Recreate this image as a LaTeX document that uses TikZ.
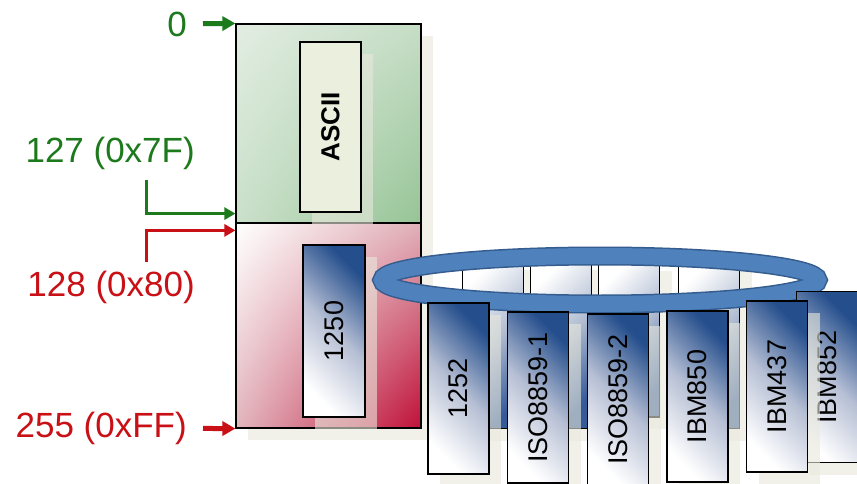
\documentclass[tikz,border=0pt]{standalone}
\usepackage{fontspec}
\setmainfont{Liberation Sans}
\usetikzlibrary{arrows.meta,shadows,shadings}

\definecolor{lblgreen}{RGB}{28,122,28}
\definecolor{lblred}{RGB}{200,16,22}
\definecolor{shadowc}{RGB}{232,232,220}
\definecolor{cardblue}{RGB}{36,78,140}
\definecolor{cardmid}{RGB}{182,191,212}
\definecolor{backmid}{RGB}{176,188,210}
\definecolor{backdark}{RGB}{52,90,152}
\definecolor{ringblue}{RGB}{79,129,189}
\definecolor{ringdark}{RGB}{52,92,142}
\definecolor{greenul}{RGB}{226,237,226}
\definecolor{greenur}{RGB}{198,221,198}
\definecolor{greenll}{RGB}{202,224,202}
\definecolor{greenlr}{RGB}{150,196,150}
\definecolor{redur}{RGB}{224,176,184}
\definecolor{redll}{RGB}{226,182,190}
\definecolor{redlr}{RGB}{192,16,56}
\definecolor{asciifill}{RGB}{235,240,222}

\begin{document}
\begin{tikzpicture}[
    x=1pt, y=1pt,
    sh/.style={drop shadow={shadow xshift=12pt,shadow yshift=-12pt,fill=shadowc,opacity=0.6}},
    half/.style={draw,line width=1.2pt,rectangle,minimum width=185pt,inner sep=0pt,sh},
    plain/.style={draw,line width=1.2pt,rectangle,minimum width=61pt,minimum height=171pt,inner sep=0pt,sh,
        font=\fontsize{27}{30}\selectfont},
    card/.style={plain,top color=cardblue,bottom color=white,middle color=cardmid,shading angle=-45},
    back/.style={plain,top color=white,bottom color=backdark,middle color=backmid,shading angle=45},
    lbl/.style={inner sep=0pt,font=\fontsize{35}{40}\selectfont},
    big/.style={-{Triangle[length=13pt,width=14pt]},line width=5pt},
    elbow/.style={-{Triangle[length=11pt,width=12pt]},line width=3pt},
]

    \useasboundingbox (0,-484) rectangle (857,0);

    % code point table
    \node[half,minimum height=199pt,upper left=greenul,upper right=greenur,
        lower left=greenll,lower right=greenlr] (upper) at (328.5,-123.5) {};
    \node[half,minimum height=205pt,upper left=white,upper right=redur,
        lower left=redll,lower right=redlr] (lower) at (328.5,-325.5) {};

    \node[plain,minimum height=170pt,fill=asciifill,
        font=\fontsize{26}{30}\selectfont\bfseries] (ascii) at (330.5,-127) {\rotatebox{90}{ASCII}};
    \node[card,minimum width=62pt,minimum height=172pt] (cp1250) at (334,-331) {\rotatebox{90}{1250}};

    % labels
    \node[lbl,lblgreen,anchor=east] (l0) at (187,-24) {0};
    \node[lbl,lblgreen,anchor=east] (l127) at (195,-153) {127 (0x7F)};
    \node[lbl,lblred,anchor=east] (l128) at (195,-287) {128 (0x80)};
    \node[lbl,lblred,anchor=east] (l255) at (187,-428) {255 (0xFF)};
    \coordinate (k127) at (146,-180);
    \coordinate (k128) at (146,-262);

    \draw[big,lblgreen,shorten <=16pt] (l0) -- (upper.north west);
    \draw[elbow,lblgreen] (k127) |- ([yshift=10pt]upper.south west);
    \draw[elbow,lblred] (k128) |- ([yshift=-8pt]lower.north west);
    \draw[big,lblred,shorten <=16pt] (l255) -- (lower.south west);

    % back of the ring
    \node[back] (b1) at (493,-343) {};
    \node[back] (b2) at (561,-343) {};
    \node[back,minimum height=158pt] (b3) at (629,-338) {};
    \node[back] (b4) at (709,-343) {};

    \draw[draw=ringdark,line width=1.5pt,double=ringblue,double distance=16pt]
        (600,-280) ellipse [x radius=218, y radius=24];

    % code pages
    \node[card] (cp1252) at (458.5,-388.5) {\rotatebox{90}{1252}};
    \node[card] (iso1) at (538,-397.5) {\rotatebox{90}{ISO8859-1}};
    \node[card] (iso2) at (618,-399.5) {\rotatebox{90}{ISO8859-2}};
    \node[card] (ibm850) at (697.5,-396.5) {\rotatebox{90}{IBM850}};
    \node[card] (ibm852) at (827,-377) {\rotatebox{90}{IBM852}};
    \node[card] (ibm437) at (777,-386.5) {\rotatebox{90}{IBM437}};

\end{tikzpicture}
\end{document}
